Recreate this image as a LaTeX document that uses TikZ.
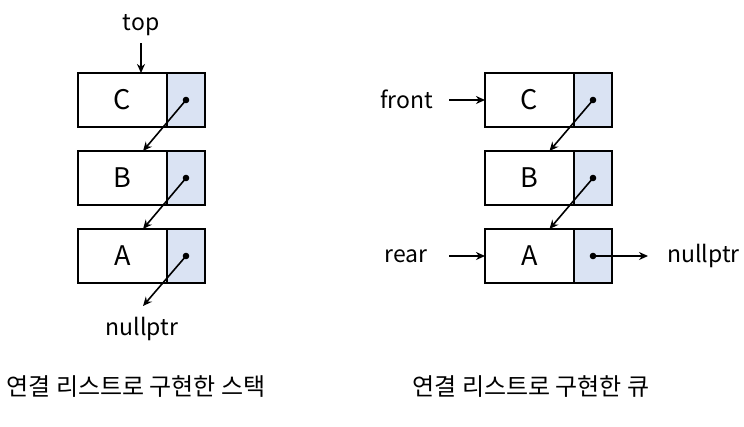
\documentclass[tikz,border=0pt]{standalone}
\usepackage{fontspec}
\setmainfont{Noto Sans CJK KR}
\usetikzlibrary{positioning,arrows.meta}
\definecolor{ptrblue}{RGB}{218,227,243}

\begin{document}
\begin{tikzpicture}[x=1pt,y=-1pt,
	datacell/.style={draw, line width=1.8pt, minimum width=89pt, minimum height=54pt, inner sep=0pt, outer sep=0pt, font=\fontsize{27}{30}\selectfont},
	ptrcell/.style={draw, line width=1.8pt, fill=ptrblue, minimum width=38pt, minimum height=54pt, inner sep=0pt, outer sep=0pt},
	lbl/.style={inner sep=0pt, font=\fontsize{23}{28}\selectfont},
	caption/.style={inner sep=0pt, font=\fontsize{24}{28}\selectfont},
	link/.style={line width=1.6pt, -{Stealth[length=9pt,width=8pt]}}]
	\useasboundingbox (0,0) rectangle (744,426);
	\node[datacell] (sc) at (122.5,100) {C};
	\node[ptrcell, right=0pt of sc] (scp) {};
	\node[datacell] (sb) at (122.5,178) {B};
	\node[ptrcell, right=0pt of sb] (sbp) {};
	\node[datacell] (sa) at (122.5,256) {A};
	\node[ptrcell, right=0pt of sa] (sap) {};
	\node[lbl, anchor=south] (top) at (141,36) {top};
	\node[lbl, anchor=north] (snull) at (142,317) {nullptr};
	\foreach \p in {scp,sbp,sap}
		\fill (\p.center) circle[radius=3.3pt];
	\draw[link, shorten <=7pt] (top.south) -- (top.south |- sc.north);
	\draw[link] (scp.center) -- ([xshift=20.5pt]sb.north);
	\draw[link] (sbp.center) -- ([xshift=20.5pt]sa.north);
	\draw[link] (sap.center) -- ([shift={(1pt,11pt)}]snull.north);
	\node[datacell] (qc) at (529.5,100) {C};
	\node[ptrcell, right=0pt of qc] (qcp) {};
	\node[datacell] (qb) at (529.5,178) {B};
	\node[ptrcell, right=0pt of qb] (qbp) {};
	\node[datacell] (qa) at (529.5,256) {A};
	\node[ptrcell, right=0pt of qa] (qap) {};
	\node[lbl, anchor=east] (front) at (433,99.5) {front};
	\node[lbl, anchor=east] (rear) at (428,256.5) {rear};
	\node[lbl, anchor=west] (qnull) at (667,256) {nullptr};
	\foreach \p in {qcp,qbp,qap}
		\fill (\p.center) circle[radius=3.3pt];
	\draw[link] ([xshift=-36pt]qc.west) -- (qc.west);
	\draw[link] ([xshift=-36pt]qa.west) -- (qa.west);
	\draw[link] (qcp.center) -- ([xshift=20pt]qb.north);
	\draw[link] (qbp.center) -- ([xshift=20pt]qa.north);
	\draw[link, shorten >=19pt] (qap.center) -- (qap.center -| qnull.west);
	\node[caption] (scap) at (136,387) {연결 리스트로 구현한 스택};
	\node[caption] (qcap) at (531,387) {연결 리스트로 구현한 큐};
\end{tikzpicture}
\end{document}
